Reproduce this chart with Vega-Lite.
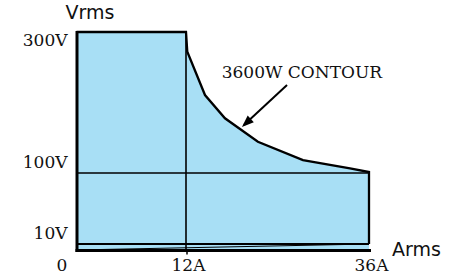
{
  "$schema": "https://vega.github.io/schema/vega-lite/v6.json",
  "width": 292.5,
  "height": 223,
  "autosize": {"type": "none"},
  "padding": {"left": 76.5, "top": 27, "right": 91, "bottom": 25},
  "background": "white",
  "config": {"view": {"stroke": null}},
  "layer": [
    {
      "data": {"values": [
        {"a": 0, "v": 300}, {"a": 12, "v": 300}, {"a": 12.17, "v": 272},
        {"a": 14.49, "v": 210.6}, {"a": 17.11, "v": 177.6}, {"a": 21.43, "v": 144.4},
        {"a": 27.34, "v": 118.4}, {"a": 33.51, "v": 106.7}, {"a": 36, "v": 101.4}
      ]},
      "mark": {"type": "area", "color": "#A8DFF5", "opacity": 1},
      "encoding": {
        "x": {
          "field": "a", "type": "quantitative",
          "scale": {"domain": [0, 12, 36], "range": [0, 109.5, 292.5], "nice": false, "zero": false},
          "axis": {
            "values": [0, 12, 36],
            "labelExpr": "datum.value == 0 ? '0' : datum.value + 'A'",
            "title": "Arms", "titleX": 315, "titleY": 5, "titleAlign": "left", "titleBaseline": "alphabetic",
            "titleFont": "DejaVu Sans", "titleFontSize": 19, "titleFontWeight": "normal", "titleColor": "#111",
            "labelFont": "DejaVu Serif", "labelFontSize": 17, "labelColor": "#111", "labelBaseline": "alphabetic",
            "labelPadding": 16, "tickSize": 4, "tickWidth": 1.5, "tickColor": "black",
            "tickOpacity": {"condition": {"test": "datum.value == 12", "value": 1}, "value": 0},
            "labelOffset": {"condition": {"test": "datum.value == 0", "value": -15}, "value": 2},
            "domainColor": "black", "domainWidth": 3, "domainCap": "square", "grid": false, "zindex": 1,
            "labelFlush": false, "labelOverlap": false, "labelBound": false
          }
        },
        "y": {
          "field": "v", "type": "quantitative",
          "scale": {"domain": [0, 10, 100, 300], "range": [223, 217, 146, 5], "nice": false, "zero": false},
          "axis": {
            "values": [10, 100, 300],
            "labelExpr": "datum.value + 'V'",
            "title": "Vrms", "titleAngle": 0, "titleX": -11.5, "titleY": -9, "titleAlign": "left", "titleBaseline": "alphabetic",
            "titleFont": "DejaVu Sans", "titleFontSize": 19, "titleFontWeight": "normal", "titleColor": "#111",
            "labelFont": "DejaVu Serif", "labelFontSize": 17, "labelColor": "#111", "labelBaseline": "alphabetic",
            "labelAlign": "right", "labelPadding": 9.5, "ticks": false, "tickSize": 0,
            "labelOffset": {"condition": {"test": "datum.value == 300", "value": 13}, "value": -6},
            "domainColor": "black", "domainWidth": 3, "domainCap": "square", "grid": false, "zindex": 1,
            "labelFlush": false, "labelOverlap": false, "labelBound": false
          }
        },
        "y2": {"datum": 0}
      }
    },
    {
      "data": {"values": [
        {"a": 0, "v": 10, "a2": 36, "v2": 10}
      ]},
      "mark": {"type": "rule", "color": "black", "strokeWidth": 2},
      "encoding": {
        "x": {"field": "a", "type": "quantitative"}, "y": {"field": "v", "type": "quantitative"},
        "x2": {"field": "a2"}, "y2": {"field": "v2"}
      }
    },
    {
      "data": {"values": [
        {"a": 0, "v": 100, "a2": 36, "v2": 100},
        {"a": 12, "v": 0, "a2": 12, "v2": 300}
      ]},
      "mark": {"type": "rule", "color": "black", "strokeWidth": 1.6},
      "encoding": {
        "x": {"field": "a", "type": "quantitative"}, "y": {"field": "v", "type": "quantitative"},
        "x2": {"field": "a2"}, "y2": {"field": "v2"}
      }
    },
    {
      "data": {"values": [
        {"a": 0, "v": 0, "a2": 36, "v2": 10}
      ]},
      "mark": {"type": "rule", "color": "black", "strokeWidth": 1},
      "encoding": {
        "x": {"field": "a", "type": "quantitative"}, "y": {"field": "v", "type": "quantitative"},
        "x2": {"field": "a2"}, "y2": {"field": "v2"}
      }
    },
    {
      "data": {"values": [
        {"i": 0, "a": 0, "v": 300}, {"i": 1, "a": 12, "v": 300}, {"i": 2, "a": 12.17, "v": 272},
        {"i": 3, "a": 14.49, "v": 210.6}, {"i": 4, "a": 17.11, "v": 177.6}, {"i": 5, "a": 21.43, "v": 144.4},
        {"i": 6, "a": 27.34, "v": 118.4}, {"i": 7, "a": 33.51, "v": 106.7}, {"i": 8, "a": 36, "v": 101.4},
        {"i": 9, "a": 36, "v": 10}
      ]},
      "mark": {"type": "line", "color": "black", "strokeWidth": 2.3},
      "encoding": {
        "x": {"field": "a", "type": "quantitative"}, "y": {"field": "v", "type": "quantitative"},
        "order": {"field": "i", "type": "quantitative"}
      }
    },
    {
      "data": {"values": [
        {"a": 25.25, "v": 224.8, "a2": 19.6, "v2": 168}
      ]},
      "mark": {"type": "rule", "color": "black", "strokeWidth": 2},
      "encoding": {
        "x": {"field": "a", "type": "quantitative"}, "y": {"field": "v", "type": "quantitative"},
        "x2": {"field": "a2"}, "y2": {"field": "v2"}
      }
    },
    {
      "data": {"values": [
        {"a": 19.34, "v": 165.2}
      ]},
      "mark": {"type": "point", "shape": "M0,0 L-0.9,2.4 L0.9,2.4 Z", "size": 100, "angle": 227, "filled": true, "color": "black", "opacity": 1},
      "encoding": {
        "x": {"field": "a", "type": "quantitative"}, "y": {"field": "v", "type": "quantitative"}
      }
    },
    {
      "data": {"values": [
        {"a": 16.68, "v": 234.3, "t": "3600W CONTOUR"}
      ]},
      "mark": {"type": "text", "align": "left", "baseline": "alphabetic", "font": "DejaVu Serif", "fontSize": 17, "color": "#111"},
      "encoding": {
        "x": {"field": "a", "type": "quantitative"}, "y": {"field": "v", "type": "quantitative"},
        "text": {"field": "t"}
      }
    }
  ]
}
